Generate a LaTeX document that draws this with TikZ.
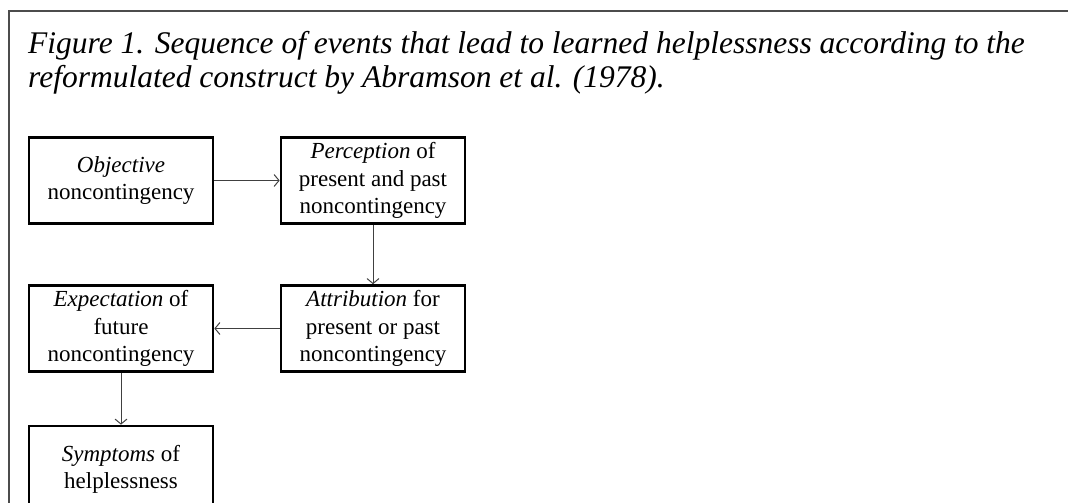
\documentclass[tikz,border=0pt]{standalone}
\usepackage{fontspec}
\setmainfont{Liberation Serif}
\usepackage{tikz}
\usetikzlibrary{calc,positioning,arrows.meta}

\tikzset{
	stage/.style={draw=black, line width=2.6pt, minimum width=184pt, minimum height=86pt,
		inner sep=0pt, align=center, font=\fontsize{23}{27.3}\selectfont},
	link/.style={draw=black!75, line width=1pt, -{Straight Barb[length=5pt,width=12pt]}},
	caption/.style={inner sep=0pt, anchor=base west, font=\fontsize{31.5}{34}\selectfont\itshape},
}

\begin{document}
\begin{tikzpicture}[x=1pt, y=-1pt]
					\useasboundingbox (0, 0) rectangle (1068, 503);
					\node (origin) at (0, 0) {};
					\coordinate (frametop) at (1068, 11);
					\coordinate (framecorner) at (9, 11);
					\coordinate (framebottom) at (9, 503);
					\draw[black!70, line width=2pt] (frametop) -- (framecorner) -- (framebottom);

					\node[caption] at (28, 53) (capA) {Figure 1. Sequence of events that lead to learned helplessness according to the};
					\node[caption] at (28, 87) (capB) {reformulated construct by Abramson et al. (1978).};

					\node[stage] at ($(origin) + (121, 180.5)$) (objective) {\textit{Objective}\\noncontingency};
					\node[stage] at ($(origin) + (373, 180.5)$) (perception) {\textit{Perception} of\\present and past\\noncontingency};
					\node[stage] at ($(origin) + (373, 328.5)$) (attribution) {\textit{Attribution} for\\present or past\\noncontingency};
					\node[stage] at ($(origin) + (121, 328.5)$) (expectation) {\textit{Expectation} of\\future\\noncontingency};
					\node[stage] at ($(origin) + (121, 469)$) (symptoms) {\textit{Symptoms} of\\helplessness};

					\draw[link] (objective) -- (perception);
					\draw[link] (perception) -- (attribution);
					\draw[link] (attribution) -- (expectation);
					\draw[link] (expectation) -- (symptoms);
				\end{tikzpicture}
\end{document}
